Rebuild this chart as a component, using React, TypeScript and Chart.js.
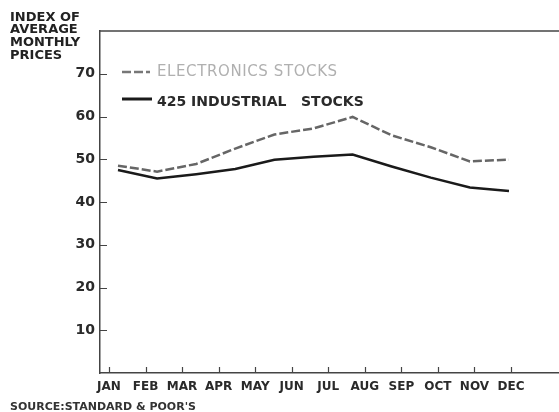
import React, { useEffect, useRef } from "react";
import { Chart, registerables } from "chart.js";

Chart.register(...registerables);

const months = ["JAN", "FEB", "MAR", "APR", "MAY", "JUN", "JUL", "AUG", "SEP", "OCT", "NOV", "DEC"];
const dataMonths = [1, 2, 3, 4, 5, 6, 7, 8, 9, 10, 11];
const electronics = [48.5, 47.1, 48.9, 52.5, 55.8, 57.2, 59.9, 55.6, 52.8, 49.5, 49.9];
const industrial = [47.5, 45.5, 46.5, 47.7, 49.9, 50.6, 51.1, 48.3, 45.7, 43.4, 42.6];
const yTicks = [10, 20, 30, 40, 50, 60, 70];
const seriesLabels = ["ELECTRONICS STOCKS", "425 INDUSTRIAL   STOCKS"];
const titleLines = ["INDEX OF", "AVERAGE", "MONTHLY", "PRICES"];
const sourceText = "SOURCE:STANDARD & POOR'S";

const FONT = "'DejaVu Sans', sans-serif";

const decor = {
  id: "decor",
  afterDraw(chart: any) {
    const { ctx, chartArea: ca, scales } = chart;
    const y = scales.y;
    const x = scales.x;
    ctx.save();
    ctx.strokeStyle = "#444";
    ctx.lineWidth = 1.5;
    ctx.beginPath();
    ctx.moveTo(ca.left, ca.top);
    ctx.lineTo(ca.right, ca.top);
    ctx.stroke();
    ctx.lineWidth = 1.2;
    ctx.beginPath();
    yTicks.forEach((v) => {
      const py = Math.round(y.getPixelForValue(v)) + 0.5;
      ctx.moveTo(ca.left, py);
      ctx.lineTo(ca.left + 7, py);
    });
    months.forEach((_, i) => {
      const px = Math.round(x.getPixelForValue(i + 1)) + 0.5;
      ctx.moveTo(px, ca.bottom);
      ctx.lineTo(px, ca.bottom - 6);
    });
    ctx.stroke();

    // legend
    const lx0 = ca.left + 22;
    const lx1 = ca.left + 50;
    const tx = ca.left + 57;
    ctx.lineWidth = 2.5;
    ctx.strokeStyle = "#777";
    ctx.setLineDash([9, 3]);
    ctx.beginPath();
    ctx.moveTo(lx0, ca.top + 41);
    ctx.lineTo(lx1, ca.top + 41);
    ctx.stroke();
    ctx.setLineDash([]);
    ctx.strokeStyle = "#1a1a1a";
    ctx.lineWidth = 3;
    ctx.beginPath();
    ctx.moveTo(lx0, ca.top + 68);
    ctx.lineTo(lx1 + 2, ca.top + 68);
    ctx.stroke();
    ctx.textBaseline = "middle";
    ctx.textAlign = "left";
    ctx.font = `15px ${FONT}`;
    ctx.fillStyle = "#b0b0b0";
    (ctx as any).letterSpacing = "0.6px";
    ctx.fillText(seriesLabels[0], tx, ca.top + 41);
    (ctx as any).letterSpacing = "0px";
    ctx.font = `bold 14px ${FONT}`;
    ctx.fillStyle = "#2a2a2a";
    ctx.fillText(seriesLabels[1], tx, ca.top + 71);

    // y title
    ctx.textBaseline = "top";
    ctx.font = `bold 13px ${FONT}`;
    ctx.fillStyle = "#222";
    const tops = [11, 23, 36, 49];
    titleLines.forEach((t, i) => ctx.fillText(t, 10, tops[i]));

    // source
    ctx.font = `bold 11px ${FONT}`;
    ctx.fillStyle = "#333";
    ctx.fillText(sourceText, 10, 402);
    ctx.restore();
  },
};

export default function App() {
  const ref = useRef<HTMLCanvasElement>(null);
  useEffect(() => {
    if (!ref.current) return;
    const chart = new Chart(ref.current, {
      type: "line",
      data: {
        datasets: [
          {
            label: seriesLabels[0],
            data: dataMonths.map((m, i) => ({ x: m, y: electronics[i] })),
            borderColor: "#666",
            borderWidth: 2.5,
            borderDash: [9, 3],
            pointRadius: 0,
            tension: 0,
            xAxisID: "xd",
            yAxisID: "y",
          },
          {
            label: seriesLabels[1],
            data: dataMonths.map((m, i) => ({ x: m, y: industrial[i] })),
            borderColor: "#1a1a1a",
            borderWidth: 2.5,
            pointRadius: 0,
            tension: 0,
            xAxisID: "xd",
            yAxisID: "y",
          },
        ],
      },
      options: {
        animation: false,
        responsive: true,
        maintainAspectRatio: false,
        layout: { padding: { left: 0, top: 31, right: 0, bottom: 0 } },
        plugins: { legend: { display: false }, tooltip: { enabled: false } },
        scales: {
          x: {
            type: "linear",
            position: "bottom",
            min: 0.754,
            max: 13.313,
            afterBuildTicks: (s: any) => {
              s.ticks = months.map((_, i) => ({ value: i + 1 }));
            },
            afterFit: (s: any) => {
              s.height = 39;
            },
            grid: { drawOnChartArea: false, drawTicks: false },
            border: { display: true, color: "#444", width: 1.5 },
            ticks: {
              autoSkip: false,
              maxRotation: 0,
              padding: 7,
              color: "#2a2a2a",
              font: { family: FONT, size: 12, weight: "bold" },
              callback: (v: any) => months[Math.round(v) - 1] ?? "",
            },
          },
          xd: {
            type: "linear",
            display: false,
            min: 0.54,
            max: 12.279,
          },
          y: {
            type: "linear",
            position: "left",
            min: 0,
            max: 80,
            afterBuildTicks: (s: any) => {
              s.ticks = yTicks.map((v) => ({ value: v }));
            },
            afterFit: (s: any) => {
              s.width = 100;
            },
            grid: { drawOnChartArea: false, drawTicks: false },
            border: { display: true, color: "#444", width: 1.5 },
            ticks: {
              padding: 5,
              color: "#2a2a2a",
              font: { family: FONT, size: 14, weight: "bold" },
            },
          },
        },
      },
      plugins: [decor],
    });
    return () => chart.destroy();
  }, []);
  return (
    <div style={{ position: "absolute", left: 0, top: 0, width: 559, height: 412, background: "#fff" }}>
      <canvas ref={ref} />
    </div>
  );
}
